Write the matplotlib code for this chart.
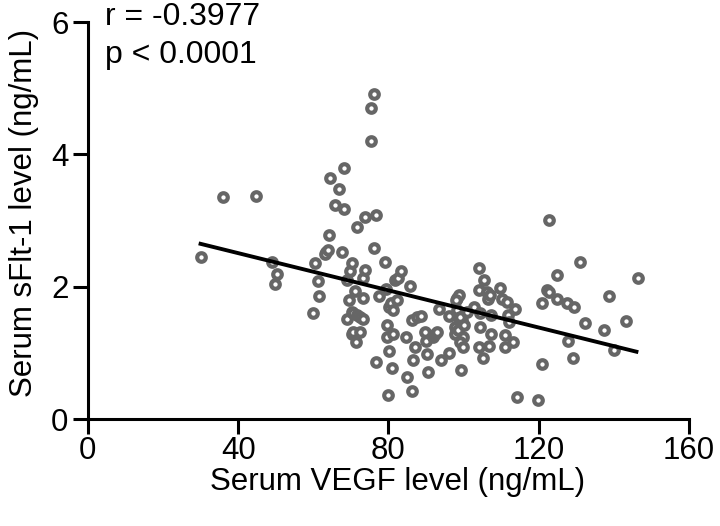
import numpy as np
import matplotlib
matplotlib.use('Agg')
import matplotlib.pyplot as plt

plt.rcParams['font.family'] = ['Liberation Sans', 'DejaVu Sans']

# values
vegf = [30.0, 35.9, 44.7, 49.1, 50.4, 49.8, 60.0, 60.4, 61.3, 61.6,
        63.5, 63.0, 64.0, 64.1, 64.4, 65.8, 66.8, 67.7, 68.2, 68.3,
        68.9, 69.1, 69.6, 69.9, 70.2, 70.2, 70.4, 70.5, 70.6, 71.1,
        71.4, 71.5, 71.5, 72.4, 72.4, 73.1, 73.1, 73.3, 73.8, 73.8,
        75.3, 75.3, 76.1, 76.1, 76.7, 76.7, 77.6, 79.1, 79.3, 79.5,
        79.5, 80.0, 80.2, 80.6, 80.2, 80.9, 81.3, 81.3, 81.7, 82.2,
        82.6, 83.3, 84.7, 84.9, 85.7, 86.2, 86.4, 86.6, 87.1, 87.5,
        88.6, 89.7, 90.0, 90.2, 90.6, 91.9, 92.4, 93.0, 93.5, 93.9,
        96.2, 96.2, 97.7, 98.2, 98.3, 98.8, 97.9, 98.9, 97.8, 99.5,
        98.5, 100.0, 99.0, 99.9, 99.0, 99.9, 99.2, 100.8, 102.8, 104.0,
        104.0, 104.2, 104.4, 104.5, 105.2, 105.4, 106.1, 106.6, 106.8, 107.0,
        107.2, 107.2, 109.7, 110.1, 111.0, 111.0, 111.5, 111.9, 112.2, 113.2,
        113.7, 114.1, 119.9, 120.8, 121.0, 122.1, 122.6, 122.8, 124.9, 124.9,
        127.6, 127.9, 129.2, 129.4, 131.0, 132.3, 137.5, 138.7, 139.9, 143.2,
        146.3]
sflt = [2.45, 3.35, 3.38, 2.38, 2.20, 2.05, 1.60, 2.36, 2.09, 1.86,
        2.53, 2.50, 2.56, 2.79, 3.65, 3.24, 3.48, 2.52, 3.80, 3.18,
        1.51, 2.10, 1.80, 2.24, 1.62, 1.29, 2.36, 1.32, 1.60, 1.94,
        1.17, 2.90, 1.57, 1.55, 1.32, 1.52, 1.83, 2.14, 2.25, 3.06,
        4.70, 4.20, 4.91, 2.59, 3.08, 0.87, 1.86, 2.37, 1.97, 1.42,
        1.24, 0.36, 1.70, 1.75, 1.03, 0.78, 1.65, 1.29, 2.10, 1.80,
        2.14, 2.24, 1.24, 0.64, 2.01, 0.42, 1.50, 0.89, 1.09, 1.55,
        1.56, 1.32, 1.18, 0.98, 0.71, 1.24, 1.29, 1.32, 1.66, 0.90,
        1.00, 1.56, 1.29, 1.65, 1.83, 1.88, 1.80, 1.45, 1.40, 1.50,
        1.35, 1.42, 1.55, 1.24, 1.17, 1.09, 0.74, 1.62, 1.70, 2.29,
        1.09, 1.95, 1.60, 1.40, 0.92, 2.11, 1.92, 1.82, 1.10, 1.87,
        1.58, 1.29, 1.99, 1.82, 1.27, 1.09, 1.77, 1.57, 1.47, 1.17,
        1.67, 0.34, 0.29, 0.84, 1.76, 1.95, 1.92, 3.01, 2.18, 1.81,
        1.75, 1.18, 0.93, 1.70, 2.37, 1.45, 1.35, 1.86, 1.05, 1.48,
        2.13]

# regression line end points
fit_x = [30.0, 146.0]
fit_y = [2.65, 1.02]

x_ticks = [0, 40, 80, 120, 160]
y_ticks = [0, 2, 4, 6]

fig = plt.figure(figsize=(7.2, 5.26), dpi=100)
ax = fig.add_axes([0.122, 0.203, 0.835, 0.755])

ax.scatter(vegf, sflt, s=38, facecolors='white', edgecolors='#666666',
           linewidths=3.0, zorder=2, clip_on=False)
ax.plot(fit_x, fit_y, color='black', lw=2.8, zorder=3)

ax.set_xlim(0, 160)
ax.set_ylim(0, 6)
ax.set_xticks(x_ticks)
ax.set_yticks(y_ticks)

for side in ['top', 'right']:
    ax.spines[side].set_visible(False)
for side in ['left', 'bottom']:
    ax.spines[side].set_linewidth(2.2)
ax.tick_params(width=2.2, length=11, labelsize=22.5)
ax.tick_params(axis='x', pad=1)
ax.tick_params(axis='y', pad=3)

ax.set_xlabel('Serum VEGF level (ng/mL)', fontsize=22.5)
ax.set_ylabel('Serum sFlt-1 level (ng/mL)', fontsize=22.5)
ax.xaxis.set_label_coords(0.516, -0.12)
ax.yaxis.set_label_coords(-0.082, 0.52)

ax.text(0.028, 1.013, 'r = -0.3977', transform=ax.transAxes, fontsize=23,
        va='center', ha='left')
ax.text(0.028, 0.917, 'p < 0.0001', transform=ax.transAxes, fontsize=23,
        va='center', ha='left')

plt.savefig('out.png', dpi=100)
